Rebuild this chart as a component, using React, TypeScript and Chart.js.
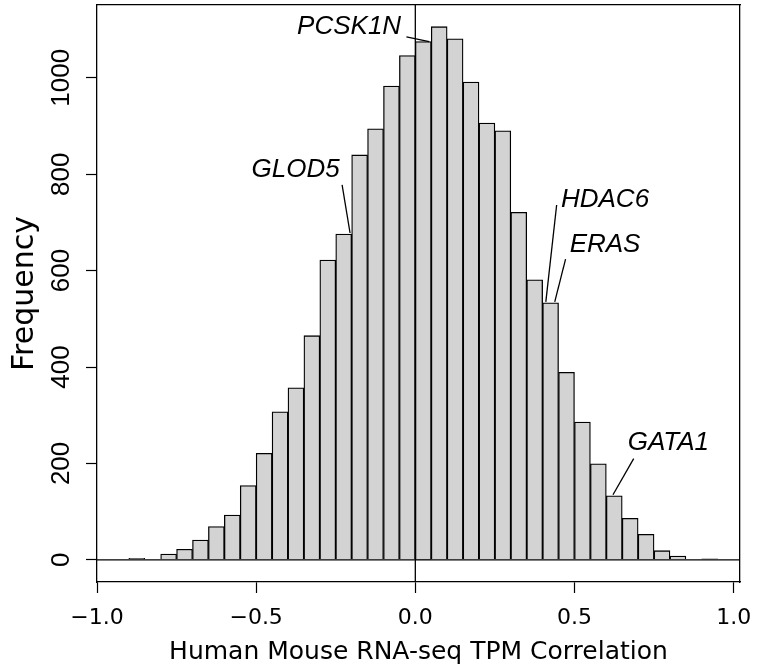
import React, { useEffect, useRef } from "react";
import { Chart, registerables } from "chart.js";

Chart.register(...registerables);

// Histogram bins (width 0.05): centers and counts
const binCenters = [
  -0.875, -0.825, -0.775, -0.725, -0.675, -0.625, -0.575, -0.525, -0.475, -0.425,
  -0.375, -0.325, -0.275, -0.225, -0.175, -0.125, -0.075, -0.025, 0.025, 0.075,
  0.125, 0.175, 0.225, 0.275, 0.325, 0.375, 0.425, 0.475, 0.525, 0.575,
  0.625, 0.675, 0.725, 0.775, 0.825, 0.875, 0.925,
];
const frequencies = [
  3, 0, 12, 22, 41, 69, 93, 154, 221, 307,
  357, 465, 622, 676, 840, 894, 983, 1046, 1075, 1106,
  1081, 991, 906, 890, 721, 581, 533, 389, 286, 199,
  133, 86, 53, 19, 8, 0, 2,
];

const xTickValues = [-1, -0.5, 0, 0.5, 1];
const yTickValues = [0, 200, 400, 600, 800, 1000];

const xMin = -1.0;
const xMax = 1.02;
const yMin = -46;
const yMax = 1151;

// Gene annotations (text centre) and leader lines
const geneLabels = ["PCSK1N", "GLOD5", "HDAC6", "ERAS", "GATA1"];
const labelX = [-0.208, -0.376, 0.596, 0.596, 0.795];
const labelY = [1105, 809, 747, 654, 243];
const leaderFromX = [-0.028, -0.23, 0.444, 0.472, 0.686];
const leaderFromY = [1085, 778, 736, 624, 210];
const leaderToX = [0.0435, -0.205, 0.41, 0.438, 0.621];
const leaderToY = [1075, 678, 535, 535, 135];

const xTitle = "Human Mouse RNA-seq TPM Correlation";
const yTitle = "Frequency";

export default function App() {
  const canvasRef = useRef<HTMLCanvasElement | null>(null);

  useEffect(() => {
    const canvas = canvasRef.current;
    if (!canvas) return;

    const labelPlugin = {
      id: "geneLabels",
      afterDatasetsDraw(chart: any) {
        const { ctx, scales } = chart;
        const xs = scales.x;
        const ys = scales.y;
        ctx.save();
        ctx.font = 'italic 26px "Liberation Sans"';
        ctx.fillStyle = "#000";
        ctx.textAlign = "center";
        ctx.textBaseline = "middle";
        geneLabels.forEach((t, i) => {
          ctx.fillText(t, xs.getPixelForValue(labelX[i]), ys.getPixelForValue(labelY[i]));
        });
        ctx.restore();
      },
    };

    const leaderSets = geneLabels.map((g, i) => ({
      type: "line" as const,
      label: g + " leader",
      data: [
        { x: leaderFromX[i], y: leaderFromY[i] },
        { x: leaderToX[i], y: leaderToY[i] },
      ],
      borderColor: "#000",
      borderWidth: 1.3,
      pointRadius: 0,
      fill: false,
      order: 0,
    }));

    const noPad = (s: any) => {
      s.paddingTop = 0;
      s.paddingBottom = 0;
      s.paddingLeft = 0;
      s.paddingRight = 0;
    };

    const chart = new Chart(canvas, {
      type: "bar",
      data: {
        datasets: [
          {
            type: "line" as const,
            label: "zero line",
            data: [
              { x: xMin, y: 0 },
              { x: xMax, y: 0 },
            ],
            borderColor: "#000",
            borderWidth: 1.3,
            pointRadius: 0,
            fill: false,
            order: 0,
          },
          {
            type: "line" as const,
            label: "x=0 line",
            data: [
              { x: 0, y: yMin },
              { x: 0, y: yMax },
            ],
            borderColor: "#000",
            borderWidth: 1.3,
            pointRadius: 0,
            fill: false,
            order: 0,
          },
          ...leaderSets,
          {
            type: "bar" as const,
            label: "Frequency",
            data: binCenters.map((c, i) => ({ x: c, y: frequencies[i] })),
            backgroundColor: "#D3D3D3",
            borderColor: "#000",
            borderWidth: 1.3,
            borderSkipped: "start",
            barPercentage: 1,
            categoryPercentage: 1,
            order: 1,
          } as any,
        ],
      },
      options: {
        responsive: false,
        animation: false,
        layout: { padding: { left: 0, right: 20, top: 5, bottom: 0 } },
        plugins: {
          legend: { display: false },
          tooltip: { enabled: false },
        },
        scales: {
          x: {
            type: "linear",
            position: "bottom",
            min: xMin,
            max: xMax,
            offset: false,
            afterBuildTicks: (s: any) => {
              s.ticks = xTickValues.map((v) => ({ value: v }));
            },
            afterFit: (s: any) => {
              s.height = 83;
              noPad(s);
            },
            ticks: {
              autoSkip: false,
              maxRotation: 0,
              minRotation: 0,
              padding: 12,
              color: "#000",
              font: { family: "DejaVu Sans", size: 22 },
              callback: (v: any) => {
                const n = Number(v);
                return (n < 0 ? "\u2212" : "") + Math.abs(n).toFixed(1);
              },
            },
            grid: {
              offset: false,
              drawOnChartArea: false,
              drawTicks: true,
              tickLength: 11,
              color: "#000",
              tickWidth: 1.2,
            },
            border: { display: true, color: "#000", width: 1.3 },
            title: {
              display: true,
              text: xTitle,
              color: "#000",
              font: { family: "DejaVu Sans", size: 25, lineHeight: 1 },
              padding: { top: 0, bottom: 0 },
            },
          },
          y: {
            type: "linear",
            position: "left",
            min: yMin,
            max: yMax,
            afterBuildTicks: (s: any) => {
              s.ticks = yTickValues.map((v) => ({ value: v }));
            },
            afterFit: (s: any) => {
              s.width = 97;
              noPad(s);
            },
            ticks: {
              autoSkip: false,
              minRotation: 90,
              maxRotation: 90,
              crossAlign: "center",
              padding: -5,
              color: "#000",
              font: { family: "Liberation Sans", size: 26 },
              callback: (v: any) => String(v),
            },
            grid: {
              drawOnChartArea: false,
              drawTicks: true,
              tickLength: 11,
              color: "#000",
              tickWidth: 1.2,
            },
            border: { display: true, color: "#000", width: 1.3 },
            title: {
              display: true,
              text: yTitle,
              color: "#000",
              font: { family: "DejaVu Sans", size: 30, lineHeight: 1 },
              padding: { top: 10, bottom: 0 },
            },
          },
          xTop: {
            type: "linear",
            position: "top",
            display: true,
            ticks: { display: false },
            grid: { drawOnChartArea: false, drawTicks: false },
            border: { display: true, color: "#000", width: 1.3 },
            afterFit: (s: any) => {
              s.height = 0;
              noPad(s);
            },
          },
          yRight: {
            type: "linear",
            position: "right",
            display: true,
            ticks: { display: false },
            grid: { drawOnChartArea: false, drawTicks: false },
            border: { display: true, color: "#000", width: 1.3 },
            afterFit: (s: any) => {
              s.width = 0;
              noPad(s);
            },
          },
        },
      } as any,
      plugins: [labelPlugin],
    });

    return () => {
      chart.destroy();
    };
  }, []);

  return (
    <div
      style={{
        position: "absolute",
        left: 0,
        top: 0,
        width: 760,
        height: 665,
        background: "#fff",
      }}
    >
      <canvas ref={canvasRef} width={760} height={665} style={{ display: "block" }} />
    </div>
  );
}
